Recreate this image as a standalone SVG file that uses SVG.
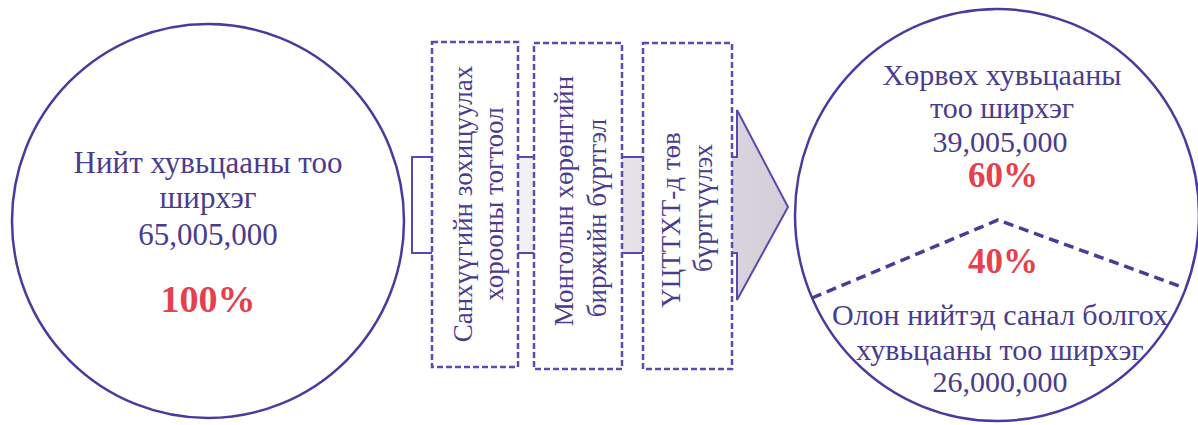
<svg xmlns="http://www.w3.org/2000/svg" width="1198" height="425" viewBox="0 0 1198 425">
<style>
.t{font-family:'Liberation Serif','DejaVu Serif',serif;fill:#4b3b8f;text-anchor:middle}
.c{font-size:31px}
.r{font-size:30px}
.b{font-size:27px}
.p{font-family:'Liberation Serif','DejaVu Serif',serif;fill:#e5404c;font-weight:bold;text-anchor:middle}
.circ{fill:#ffffff;stroke:#4a3aa0;stroke-width:2.5}
.box{fill:#ffffff;stroke:#6048b0;stroke-width:2.5;stroke-dasharray:6 3}
</style>
<defs>
<linearGradient id="ag" gradientUnits="userSpaceOnUse" x1="412" y1="0" x2="788" y2="0">
<stop offset="0" stop-color="#ffffff"/>
<stop offset="1" stop-color="#d2cdd8"/>
</linearGradient>
</defs>
<rect width="1198" height="425" fill="#ffffff"/>
<g id="connectors">
<polygon points="412,157 737,157 737,110 788,207 737,300 737,253 412,253" fill="url(#ag)" stroke="#5a48b0" stroke-width="2"/>
</g>
<g id="total">
<ellipse class="circ" cx="208" cy="221" rx="196" ry="197"/>
<text class="t c" x="208" y="173">Нийт хувьцааны тоо</text>
<text class="t c" x="208" y="208">ширхэг</text>
<text class="t c" x="208" y="245">65,005,000</text>
<text class="p" x="208" y="312" font-size="38">100%</text>
</g>
<g id="step1">
<rect class="box" x="432" y="42" width="86" height="325"/>
<text class="t b" transform="translate(472,204) rotate(-90)">Санхүүгийн зохицуулах</text>
<text class="t b" transform="translate(503,204) rotate(-90)">хорооны тогтоол</text>
</g>
<g id="step2">
<rect class="box" x="534" y="43" width="88" height="326"/>
<text class="t b" transform="translate(573,201) rotate(-90)">Монголын хөрөнгийн</text>
<text class="t b" transform="translate(606,218) rotate(-90)">биржийн бүртгэл</text>
</g>
<g id="step3">
<rect class="box" x="643" y="43" width="89" height="326"/>
<text class="t b" transform="translate(680,220) rotate(-90)">ҮЦТТХТ-д төв</text>
<text class="t b" transform="translate(712,208) rotate(-90)">бүртгүүлэх</text>
</g>
<g id="split">
<ellipse class="circ" cx="997" cy="215" rx="202" ry="206"/>
<polyline points="812,298 998,220 1182,287" fill="none" stroke="#4a3a9a" stroke-width="3.5" stroke-dasharray="10 6"/>
<text class="t r" x="1002" y="85">Хөрвөх хувьцааны</text>
<text class="t r" x="1002" y="118">тоо ширхэг</text>
<text class="t r" x="1000" y="152">39,005,000</text>
<text class="p" x="1003" y="187" font-size="35">60%</text>
<text class="p" x="1003" y="273" font-size="35">40%</text>
<text class="t r" x="1000" y="325">Олон нийтэд санал болгох</text>
<text class="t r" x="1000" y="360">хувьцааны тоо ширхэг</text>
<text class="t r" x="1000" y="392">26,000,000</text>
</g>
</svg>
